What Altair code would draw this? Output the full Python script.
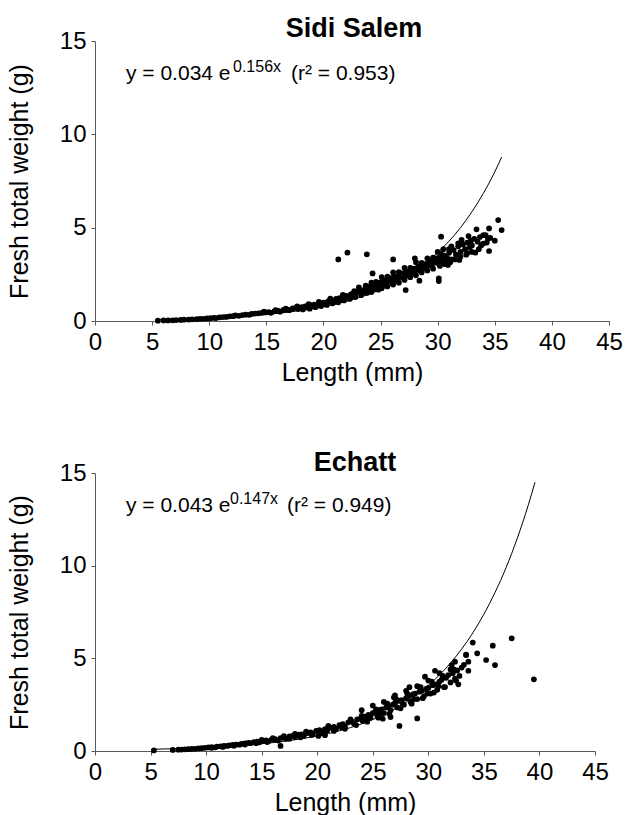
import altair as alt
import pandas as pd

FONT = "Liberation Sans"

# ---------------- Sidi Salem ----------------
sidi_len = [
    5.5, 6.0, 6.4, 6.8, 7.1, 7.5, 7.8, 8.2, 8.5, 8.9, 9.2, 9.5, 9.8, 10.1, 10.4, 10.6, 10.9, 11.2, 11.5, 11.8,
    12.1, 12.3, 12.6, 12.9, 13.2, 13.5, 13.7, 14.0, 14.3, 14.6, 14.9, 15.2, 15.4, 15.7, 16.0, 16.2, 16.5, 16.8,
    17.0, 17.3, 17.6, 17.8, 18.1, 18.4, 18.6, 18.9, 19.2, 19.4, 19.7, 20.0, 20.2, 20.4, 20.7, 20.9, 21.1, 21.4,
    21.6, 21.8, 22.0, 22.2, 22.4, 22.6, 22.8, 23.0, 23.2, 23.4, 23.6, 23.8, 24.0, 24.1, 24.3, 24.5, 24.7, 24.9,
    25.0, 25.2, 25.4, 25.5, 25.7, 25.9, 26.0, 26.2, 26.4, 26.5, 26.7, 26.9, 27.0, 27.2, 27.4, 27.5, 27.7, 27.9,
    28.0, 28.2, 28.4, 28.5, 28.7, 28.9, 29.0, 29.2, 29.4, 29.5, 29.7, 29.9, 30.0, 30.2, 30.3, 30.4, 30.6, 30.8,
    31.0, 31.2, 31.4, 31.6, 31.8, 32.0, 32.2, 32.4, 32.6, 32.8, 33.0, 33.2, 33.5, 33.7, 34.0, 34.2, 34.6, 35.0,
    21.0, 22.5, 23.5, 24.4, 25.3, 25.8, 26.3, 26.8, 27.3, 27.8, 28.3, 28.8, 29.3, 29.8, 30.1, 30.5, 30.7, 29.6,
    28.6, 27.6, 26.6, 25.6, 24.6, 23.7, 22.7, 21.7, 20.6, 19.6, 18.7, 17.7, 16.7, 15.8, 14.8,
    21.3, 22.1, 23.8, 26.1, 24.3, 28.0, 30.3, 30.1, 30.1, 27.2, 28.4, 35.3, 35.6, 34.5, 33.4, 34.5, 33.3, 32.6,
    32.7, 34.0, 34.3, 34.4, 31.8, 32.1, 31.9, 30.9,
    18.2, 18.8, 19.3, 19.8, 20.3, 20.8, 21.3, 21.8, 22.3, 22.8, 23.3, 23.8, 24.2, 24.8, 25.1, 25.6, 26.1, 26.6,
    27.1, 27.6, 28.1, 28.6, 29.1, 29.6, 30.2, 30.6, 31.1, 31.5, 32.0, 32.5, 33.0, 33.6,
    23.1, 24.2, 25.1, 26.1, 27.1, 28.1, 29.1, 30.0, 30.5, 31.2, 31.0, 32.9, 33.8,
]
sidi_wt = [
    0.02, 0.03, 0.03, 0.04, 0.05, 0.06, 0.07, 0.08, 0.09, 0.10, 0.12, 0.12, 0.14, 0.15, 0.17, 0.16, 0.20, 0.21, 0.22, 0.25,
    0.26, 0.30, 0.28, 0.32, 0.34, 0.33, 0.38, 0.40, 0.41, 0.44, 0.46, 0.48, 0.44, 0.52, 0.55, 0.50, 0.60, 0.62,
    0.58, 0.68, 0.70, 0.64, 0.75, 0.78, 0.72, 0.85, 0.88, 0.80, 0.95, 0.98, 0.92, 1.05, 1.10, 1.02, 1.18, 1.22,
    1.12, 1.30, 1.35, 1.25, 1.42, 1.48, 1.38, 1.58, 1.62, 1.50, 1.70, 1.75, 1.65, 1.85, 1.90, 1.78, 1.98, 2.05,
    1.88, 2.12, 2.18, 2.00, 2.25, 2.30, 2.08, 2.40, 2.35, 2.18, 2.48, 2.55, 2.30, 2.60, 2.65, 2.42, 2.72, 2.80,
    2.55, 2.85, 2.92, 2.68, 3.00, 3.05, 2.80, 3.10, 3.18, 2.95, 3.25, 3.35, 3.10, 3.45, 3.60, 3.20, 3.50, 3.40,
    3.65, 3.30, 3.80, 3.55, 4.00, 3.70, 4.10, 3.85, 4.20, 3.95, 4.05, 4.40, 4.25, 4.50, 4.15, 4.60, 4.45, 4.30,
    1.05, 1.32, 1.62, 1.72, 1.95, 2.15, 2.22, 2.38, 2.45, 2.60, 2.75, 2.88, 2.98, 3.15, 3.30, 3.38, 3.25, 3.40,
    3.12, 2.85, 2.62, 2.38, 2.10, 1.90, 1.60, 1.40, 1.20, 1.02, 0.90, 0.78, 0.66, 0.58, 0.50,
    3.30, 3.66, 3.57, 3.30, 2.55, 3.36, 4.52, 2.29, 2.14, 1.66, 2.16, 5.41, 4.87, 4.96, 4.91, 3.75, 3.66, 3.63,
    4.55, 4.60, 4.20, 4.40, 4.16, 4.34, 3.27, 3.00,
    0.62, 0.66, 0.74, 0.80, 0.86, 0.95, 1.00, 1.10, 1.18, 1.28, 1.38, 1.50, 1.55, 1.68, 1.75, 1.85, 1.95, 2.05,
    2.20, 2.35, 2.45, 2.60, 2.70, 2.80, 2.95, 3.05, 3.15, 3.30, 3.45, 3.55, 3.70, 3.85,
    1.80, 2.05, 2.35, 2.60, 2.85, 3.15, 3.35, 3.70, 3.85, 4.00, 3.85, 4.30, 4.05,
]
sidi_fit_len = [5.5, 8, 10, 12, 14, 16, 18, 20, 22, 24, 26, 28, 30, 31, 32, 33, 34, 35, 35.6]
sidi_fit_wt = [0.08, 0.118, 0.162, 0.221, 0.302, 0.412, 0.564, 0.770, 1.052, 1.437, 1.963, 2.68, 3.66, 4.28,
               5.00, 5.85, 6.84, 7.99, 8.78]

# ---------------- Echatt ----------------
echatt_len = [
    5.3, 7.0, 7.5, 7.8, 8.1, 8.4, 8.7, 9.0, 9.3, 9.6, 9.9, 10.2, 10.5, 10.8, 11.0, 11.3, 11.6, 11.9, 12.1, 12.4,
    12.7, 13.0, 13.2, 13.5, 13.8, 14.0, 14.3, 14.6, 14.8, 15.1, 15.4, 15.6, 15.9, 16.2, 16.4, 16.7, 16.7, 17.0,
    17.2, 17.5, 17.8, 18.0, 18.3, 18.6, 18.8, 19.1, 19.4, 19.6, 19.9, 20.1, 20.2, 20.4, 20.7, 20.7, 20.9, 21.2,
    21.5, 21.7, 22.0, 22.3, 22.5, 22.8, 23.1, 23.3, 23.6, 23.9, 24.1, 24.3, 24.6, 24.8, 25.0, 25.2, 25.4, 25.6,
    25.8, 25.9, 26.0, 26.2, 26.4, 26.6, 26.6, 26.8, 26.9, 27.0, 27.2, 27.4, 27.4, 27.6, 27.8, 28.0, 28.2, 28.3,
    28.4, 28.6, 28.8, 29.0, 29.0, 29.2, 29.4, 29.6, 29.7, 29.8, 30.0, 30.2, 30.4, 30.6, 30.6, 30.8, 31.0, 31.2,
    31.4, 31.6, 31.8, 32.0, 32.1, 32.2, 32.4, 32.4, 32.6, 32.8, 33.0, 33.2, 33.4, 33.4, 33.6, 33.6, 34.0, 34.4,
    35.2, 35.8, 36.0, 37.5, 39.5,
    21.0, 22.2, 23.0, 24.0, 24.5, 25.3, 25.7, 26.3, 27.1, 27.7, 28.1, 28.7, 29.3, 29.9, 30.3, 30.9, 31.3, 32.3,
    32.7, 19.0, 18.0, 17.0, 16.0, 15.0,
    10.5, 11.5, 12.5, 13.5, 14.5, 15.5, 16.5, 17.5, 18.5, 19.5, 20.5, 21.5, 22.5, 23.5, 24.5, 25.5, 26.5, 27.5,
    28.5, 29.5, 30.5, 31.5, 32.5,
    24.0, 25.0, 26.0, 27.0, 28.0, 29.0, 30.0, 31.0, 32.0,
]
echatt_wt = [
    0.03, 0.06, 0.07, 0.08, 0.09, 0.10, 0.11, 0.12, 0.14, 0.15, 0.17, 0.19, 0.21, 0.20, 0.24, 0.25, 0.28, 0.27, 0.31, 0.33,
    0.35, 0.34, 0.39, 0.41, 0.44, 0.42, 0.48, 0.50, 0.47, 0.55, 0.57, 0.52, 0.62, 0.64, 0.58, 0.70, 0.27, 0.72,
    0.66, 0.79, 0.82, 0.75, 0.88, 0.90, 0.82, 0.97, 1.00, 0.92, 1.08, 0.81, 1.12, 1.02, 1.18, 0.85, 1.10, 1.25,
    1.30, 1.20, 1.40, 1.45, 1.32, 1.55, 1.60, 1.48, 1.70, 1.75, 1.62, 1.85, 1.95, 1.80, 2.05, 2.10, 1.92, 2.20,
    2.25, 1.74, 2.05, 2.35, 2.40, 1.83, 2.20, 2.50, 2.90, 2.60, 2.35, 1.35, 2.70, 2.75, 2.50, 2.85, 2.95, 3.44,
    2.65, 3.05, 3.10, 1.76, 2.80, 3.20, 3.25, 2.95, 4.01, 3.35, 3.40, 3.10, 3.55, 4.33, 3.60, 3.30, 3.75, 3.85,
    3.45, 3.95, 4.10, 3.70, 4.64, 4.20, 4.82, 3.90, 4.35, 4.05, 4.50, 4.65, 5.18, 5.20, 4.82, 4.33, 5.85, 5.27,
    4.91, 5.68, 4.64, 6.08, 3.87,
    1.35, 1.28, 1.70, 1.90, 1.70, 2.25, 2.00, 2.55, 2.80, 2.55, 3.10, 2.80, 3.45, 3.10, 3.75, 3.50, 4.05, 4.40,
    3.60, 1.05, 0.92, 0.80, 0.70, 0.60,
    0.17, 0.22, 0.28, 0.35, 0.42, 0.48, 0.56, 0.66, 0.74, 0.86, 0.95, 1.08, 1.20, 1.40, 1.58, 1.80, 2.00, 2.30,
    2.55, 2.85, 3.15, 3.45, 3.80,
    2.20, 2.45, 2.65, 3.00, 3.25, 3.50, 3.80, 4.20, 4.40,
]
echatt_fit_len = [5.3, 8, 10, 12, 14, 16, 18, 20, 22, 24, 26, 28, 30, 31, 32, 33, 34, 35, 36, 37, 38, 39, 39.6]
echatt_fit_wt = [0.094, 0.139, 0.187, 0.251, 0.337, 0.452, 0.606, 0.813, 1.091, 1.465, 1.965, 2.64, 3.54, 4.10,
                 4.75, 5.50, 6.37, 7.38, 8.55, 9.90, 11.47, 13.28, 14.50]

x_ticks = [0, 5, 10, 15, 20, 25, 30, 35, 40, 45]
y_ticks = [0, 5, 10, 15]

AXIS_COLOR = "#5a5a5a"


def make_axis(values, title, title_pad):
    return alt.Axis(
        values=values, title=title, grid=False, tickSize=4, tickColor=AXIS_COLOR,
        domainColor=AXIS_COLOR, labelPadding=5, titlePadding=title_pad,
        labelFontSize=24, titleFontSize=25, titleFontWeight="normal",
        labelFont=FONT, titleFont=FONT, labelColor="black", titleColor="black",
        labelFlush=False, labelOverlap=False, labelBound=False,
    )


def text_layer(txt, x, y, size, weight="normal", align="left"):
    return alt.Chart(pd.DataFrame({"t": [txt]})).mark_text(
        font=FONT, fontSize=size, fontWeight=weight, align=align,
        baseline="alphabetic", color="black",
    ).encode(text="t:N", x=alt.value(x), y=alt.value(y))


def panel(lx, wy, fx, fy, title, eq1, eq2, eq3, w, h, title_x, title_y, sup_x, rest_x):
    xs = alt.Scale(domain=[0, 45], nice=False, zero=False)
    ys = alt.Scale(domain=[0, 15], nice=False)
    pts = alt.Chart(pd.DataFrame({"L": lx, "W": wy})).mark_circle(
        size=33, color="black", opacity=1
    ).encode(
        x=alt.X("L:Q", scale=xs, axis=make_axis(x_ticks, "Length (mm)", 6)),
        y=alt.Y("W:Q", scale=ys, axis=make_axis(y_ticks, "Fresh total weight (g)", 27)),
    )
    fit = alt.Chart(pd.DataFrame({"L": fx, "W": fy})).mark_line(
        color="black", strokeWidth=1, interpolate="monotone"
    ).encode(x=alt.X("L:Q", scale=xs), y=alt.Y("W:Q", scale=ys))
    layers = [
        fit, pts,
        text_layer(title, title_x, title_y, 27, "bold", "center"),
        text_layer(eq1, 31, 39, 21),
        text_layer(eq2, sup_x, 31, 16),
        text_layer(eq3, rest_x, 39, 21),
    ]
    return alt.layer(*layers).properties(width=w, height=h)


p1 = panel(sidi_len, sidi_wt, sidi_fit_len, sidi_fit_wt, "Sidi Salem",
           "y = 0.034 e", "0.156x", "(r² = 0.953)", 514, 280, 259, -4, 138, 196)
p2 = panel(echatt_len, echatt_wt, echatt_fit_len, echatt_fit_wt, "Echatt",
           "y = 0.043 e", "0.147x", "(r² = 0.949)", 500, 278, 260, -2, 135, 192)

chart = alt.vconcat(p1, p2, spacing=152, bounds="flush").properties(
    padding={"left": 7, "top": 15, "right": 0, "bottom": 0}
).configure_view(stroke=None)

chart.save("out.html", embed_options={"renderer": "svg", "actions": False})
